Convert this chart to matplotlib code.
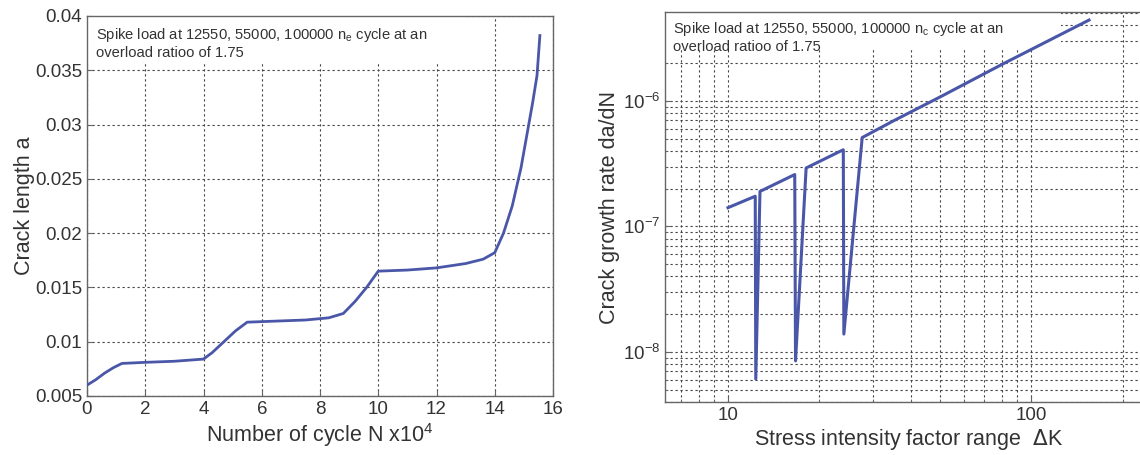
import matplotlib
matplotlib.use('Agg')
import matplotlib.pyplot as plt
from matplotlib.patches import Rectangle
from matplotlib.ticker import FixedLocator, FuncFormatter, NullFormatter, LogLocator

plt.rcParams['font.family'] = ['Liberation Sans', 'DejaVu Sans']

# crack length vs cycles (N in units of 10^4)
N_CYCLES = [0, 0.3, 0.6, 0.9, 1.2, 2.0, 3.0, 4.0, 4.3, 4.7, 5.1, 5.5,
            6.5, 7.5, 8.3, 8.8, 9.2, 9.6, 10.0, 11.0, 12.0, 13.0, 13.6,
            14.0, 14.3, 14.6, 14.9, 15.1, 15.3, 15.45, 15.55]
CRACK_A = [0.0060, 0.0065, 0.0071, 0.0076, 0.0080, 0.0081, 0.0082, 0.0084,
           0.0090, 0.0100, 0.0110, 0.0118, 0.0119, 0.0120, 0.0122, 0.0126,
           0.0137, 0.0150, 0.0165, 0.0166, 0.0168, 0.0172, 0.0176, 0.0182,
           0.0200, 0.0225, 0.0260, 0.0290, 0.0320, 0.0345, 0.0382]

# growth rate vs stress intensity factor range
DELTA_K = [10.0, 12.3, 12.35, 12.75, 16.6, 16.7, 18.1, 24.0, 24.1, 27.7,
           35, 51, 80, 155]
DA_DN = [1.41e-7, 1.74e-7, 6.1e-9, 1.9e-7, 2.59e-7, 8.5e-9, 2.92e-7,
         4.08e-7, 1.39e-8, 5.1e-7, 6.9e-7, 1.1e-6, 1.95e-6, 4.4e-6]

NOTE_LEFT = "Spike load at 12550, 55000, 100000 n$_\\mathregular{e}$ cycle at an\noverload ratioo of 1.75"
NOTE_RIGHT = "Spike load at 12550, 55000, 100000 n$_\\mathregular{c}$ cycle at an\noverload ratioo of 1.75"

LINE_C = '#4a57a8'
GRID_KW = dict(color='#444444', linestyle=(0, (2, 2.5)), linewidth=0.8)
TXT_C = '#333333'

W, H = 1140, 455
fig = plt.figure(figsize=(W / 100, H / 100), dpi=100)


def px_axes(x0, y0, x1, y1):
    return fig.add_axes([x0 / W, 1 - y1 / H, (x1 - x0) / W, (y1 - y0) / H])


def style(ax):
    for s in ax.spines.values():
        s.set_color('#666666')
        s.set_linewidth(1.0)
    ax.tick_params(direction='in', colors='#666666', labelcolor=TXT_C,
                   labelsize=13.5, length=4)
    ax.tick_params(which='minor', direction='in', colors='#666666', length=2)
    ax.set_axisbelow(True)


# left panel
ax1 = px_axes(87, 16, 553, 396)
style(ax1)
ax1.plot(N_CYCLES, CRACK_A, color=LINE_C, lw=2.0, zorder=3)
ax1.set_xlim(0, 16)
ax1.set_ylim(0.005, 0.04)
ax1.set_xticks(range(0, 17, 2))
ax1.set_yticks([0.005, 0.01, 0.015, 0.02, 0.025, 0.03, 0.035, 0.04])
ax1.yaxis.set_major_formatter(FuncFormatter(lambda v, p: f'{v:g}'))
ax1.grid(True, **GRID_KW)
ax1.add_patch(Rectangle((0.003, 0.88), 0.81, 0.117, transform=ax1.transAxes,
                        facecolor='white', edgecolor='none', zorder=2))
ax1.text(0.019, 0.975, NOTE_LEFT, transform=ax1.transAxes, va='top', ha='left',
         fontsize=10.6, color=TXT_C, linespacing=1.2, zorder=4)
ax1.set_xlabel('Number of cycle N x10$^\\mathregular{4}$', fontsize=15.5,
               color=TXT_C, labelpad=2)
ax1.set_ylabel('Crack length a', fontsize=15.5, color=TXT_C, labelpad=0)

# right panel
ax2 = px_axes(665, 12, 1152, 402)
style(ax2)
ax2.plot(DELTA_K, DA_DN, color=LINE_C, lw=2.2, zorder=3)
ax2.set_xscale('log')
ax2.set_yscale('log')
ax2.set_xlim(6.2, 250)
ax2.set_ylim(4.0e-9, 5.1e-6)
ax2.xaxis.set_major_locator(FixedLocator([10, 100]))
ax2.xaxis.set_major_formatter(FuncFormatter(lambda v, p: f'{v:g}'))
ax2.xaxis.set_minor_locator(LogLocator(base=10, subs=range(2, 10), numticks=20))
ax2.xaxis.set_minor_formatter(NullFormatter())
ax2.yaxis.set_major_locator(FixedLocator([1e-8, 1e-7, 1e-6]))
ax2.yaxis.set_minor_locator(LogLocator(base=10, subs=range(2, 10), numticks=20))
ax2.yaxis.set_minor_formatter(NullFormatter())
ax2.grid(True, which='both', **GRID_KW)
ax2.add_patch(Rectangle((0.003, 0.905), 0.81, 0.092, transform=ax2.transAxes,
                        facecolor='white', edgecolor='none', zorder=2))
ax2.text(0.017, 0.98, NOTE_RIGHT, transform=ax2.transAxes, va='top', ha='left',
         fontsize=10.6, color=TXT_C, linespacing=1.2, zorder=4)
ax2.set_xlabel('Stress intensity factor range  $\\Delta$K', fontsize=15.5,
               color=TXT_C, labelpad=2)
ax2.set_ylabel('Crack growth rate da/dN', fontsize=15.5, color=TXT_C, labelpad=2)

fig.savefig('out.png', dpi=100)
